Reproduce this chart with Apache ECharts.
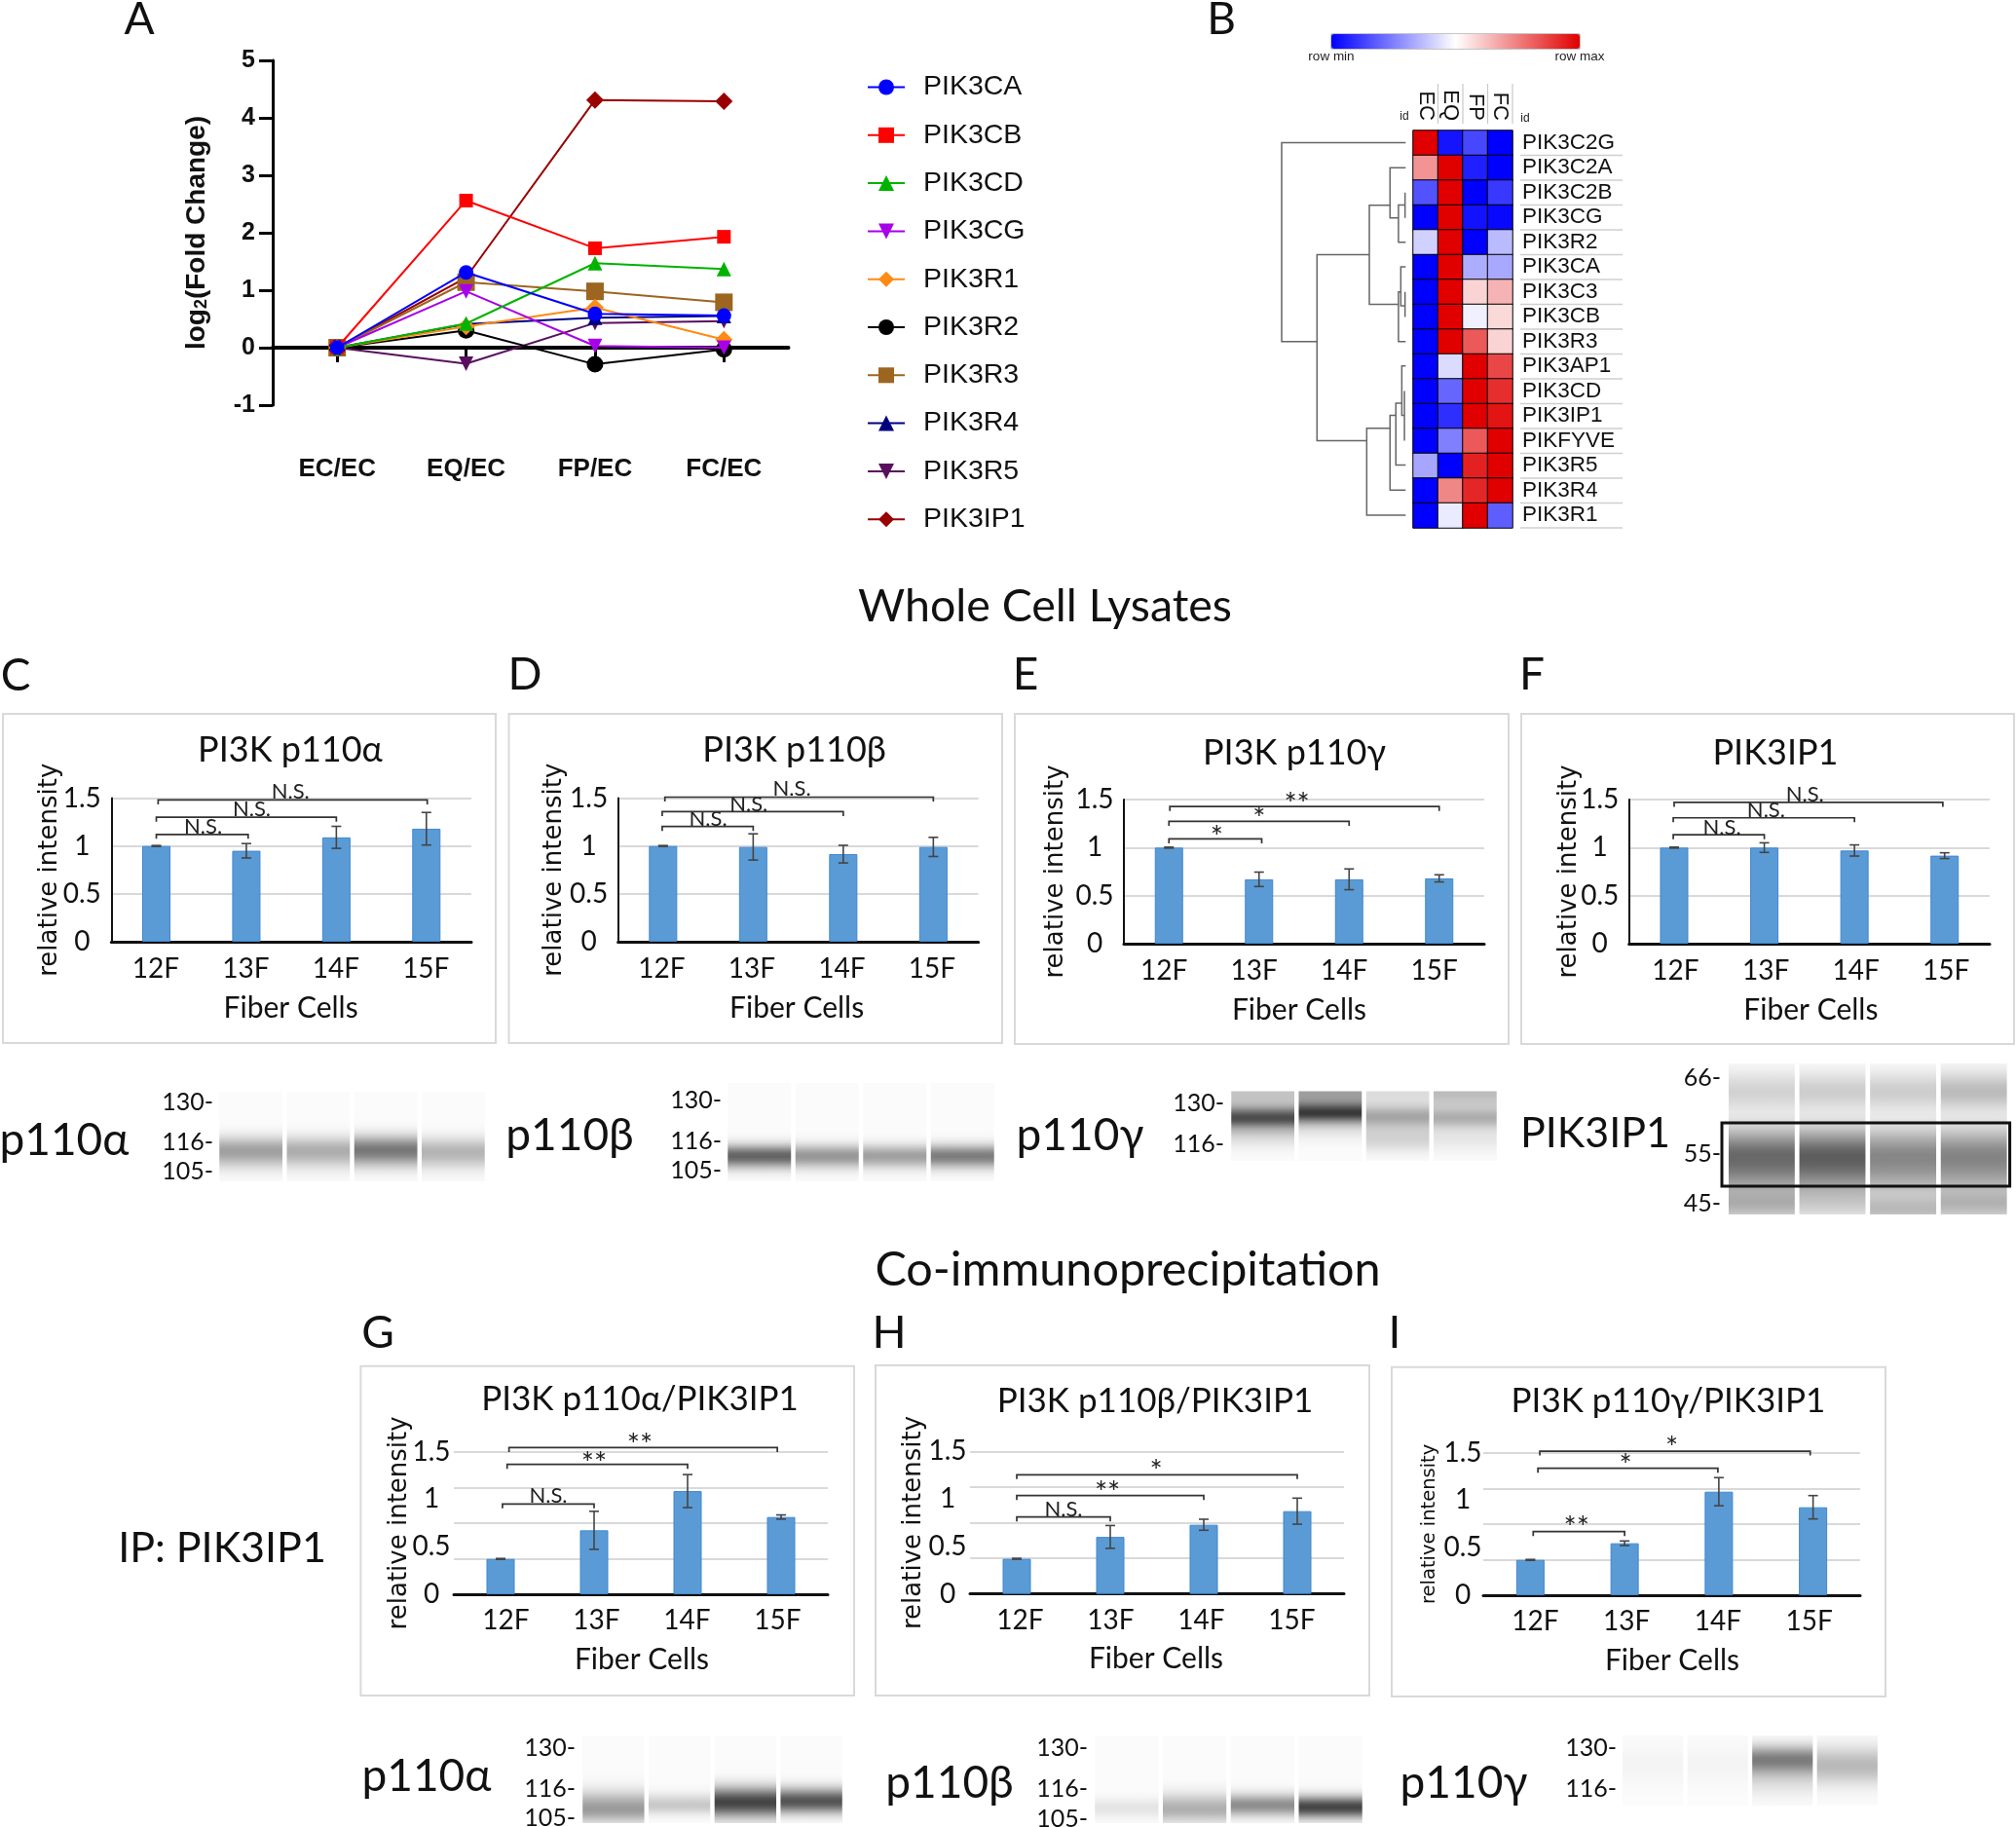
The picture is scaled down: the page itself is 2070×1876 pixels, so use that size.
<!DOCTYPE html>
<html><head><meta charset="utf-8"><title>PI3K figure</title>
<style>html,body{margin:0;padding:0;background:#fff}#c{width:2070px;height:1876px}</style>
<script src="https://cdn.jsdelivr.net/npm/echarts@6/dist/echarts.min.js"></script></head>
<body><div id="c"></div>
<script>
// ---------- Panel A data ----------
const foldCategories = ['EC/EC','EQ/EC','FP/EC','FC/EC'];
const PIK3CA  = [0, 1.31, 0.59, 0.56];
const PIK3CB  = [0, 2.56, 1.73, 1.93];
const PIK3CD  = [0, 0.42, 1.47, 1.37];
const PIK3CG  = [0, 0.98, 0.03, 0.00];
const PIK3R1  = [0, 0.37, 0.70, 0.14];
const PIK3R2  = [0, 0.30, -0.29, -0.03];
const PIK3R3  = [0, 1.14, 0.98, 0.79];
const PIK3R4  = [0, 0.41, 0.52, 0.55];
const PIK3R5  = [0, -0.28, 0.43, 0.46];
const PIK3IP1 = [0, 1.22, 4.31, 4.29];
// ---------- Panel B data ----------
const heatColumns = ['EC','EQ','FP','FC'];
const heatRows = ['PIK3C2G','PIK3C2A','PIK3C2B','PIK3CG','PIK3R2','PIK3CA','PIK3C3','PIK3CB','PIK3R3','PIK3AP1','PIK3CD','PIK3IP1','PIKFYVE','PIK3R5','PIK3R4','PIK3R1'];
const heatValues = [
 [1,-0.92,-0.72,-1],[0.42,1,-0.88,-1],[-0.68,1,-1,-0.78],[-1,1,-0.93,-0.97],
 [-0.18,1,-1,-0.27],[-1,1,-0.32,-0.34],[-1,1,0.17,0.3],[-1,1,-0.06,0.15],
 [-1,1,0.65,0.17],[-1,-0.14,1,0.72],[-1,-0.6,1,0.82],[-1,-0.82,1,0.92],
 [-1,-0.5,0.65,1],[-0.35,-1,0.87,1],[-1,0.47,0.85,1],[-1,-0.08,1,-0.63]];
// merge distance, top row, bottom row, top child distance, bottom child distance
const dendrogramMerges = [
 [1.00,0.49,8.50,0,0.715],[0.715,5.0,12.49,0.293,0.314],[0.293,3.01,7.0,0.126,0.058],
 [0.126,1.5,3.52,0,0.058],[0.058,3.0,4.5,0.005,0],[0.005,2.5,3.52,0.005,0.005],
 [0.058,6.5,8.5,0.039,0],[0.039,5.49,7.06,0,0.005],[0.005,6.5,7.51,0.005,0.005],
 [0.314,11.99,15.49,0.126,0],[0.126,11.47,14.48,0.079,0],[0.079,10.98,13.47,0.031,0],
 [0.031,9.48,11.47,0,0.010],[0.010,10.49,12.49,0.010,0.010]];
// ---------- Bar panels: values, errors, brackets [from,to,level,labelX,labelY,text] ----------
const fiberCells = ['12F','13F','14F','15F'];
const valuesC=[1,0.95,1.09,1.18],  errorsC=[0.005,0.075,0.115,0.17];
const valuesD=[1,0.99,0.915,0.99], errorsD=[0.005,0.137,0.092,0.10];
const valuesE=[1,0.67,0.67,0.68],  errorsE=[0.005,0.075,0.108,0.037];
const valuesF=[1,1.0,0.97,0.916],  errorsF=[0.005,0.05,0.058,0.03];
const valuesG=[0.372,0.673,1.086,0.813], errorsG=[0.005,0.2,0.174,0.022];
const valuesH=[0.37,0.60,0.728,0.871],   errorsH=[0.005,0.12,0.058,0.137];
const valuesI=[0.372,0.547,1.09,0.926],  errorsI=[0.005,0.024,0.148,0.123];
const bracketsC=[[0,1.02,1.12,0.52,1.2,'N.S.'],[0,2,1.30,1.06,1.38,'N.S.'],[0.02,3.01,1.48,1.49,1.57,'N.S.']];
const bracketsD=[[-0.01,1,1.203,0.5,1.28,'N.S.'],[-0.01,2,1.358,0.95,1.43,'N.S.'],[0.02,3,1.51,1.43,1.60,'N.S.']];
const bracketsE=[[0,1.03,1.09,0.53,1.16,'*'],[0,2,1.273,1.0,1.346,'*'],[0.01,3,1.427,1.42,1.503,'**']];
const bracketsF=[[-0.01,1,1.133,0.53,1.21,'N.S.'],[-0.01,2,1.31,1.02,1.39,'N.S.'],[0,2.98,1.47,1.45,1.556,'N.S.']];
const bracketsG=[[0.02,1,0.95,0.51,1.035,'N.S.'],[0.07,2,1.367,1.0,1.43,'**'],[0.09,2.96,1.544,1.49,1.62,'**']];
const bracketsH=[[0,1,0.81,0.5,0.888,'N.S.'],[0,2,1.035,0.97,1.11,'**'],[0,3,1.254,1.49,1.343,'*']];
const bracketsI=[[0.03,1,0.67,0.49,0.758,'**'],[0.08,1.99,1.336,1.01,1.414,'*'],[0.1,2.97,1.517,1.5,1.602,'*']];
// ---------- Capillary blots: [lane, centre, spread up, spread down, darkness] ----------
const blotC=[[0,61,14,16,0.36],[1,61,14,16,0.31],[2,60,14,16,0.52],[3,62,14,16,0.28]];
const blotD=[[0,75,11,12,0.6],[1,75,11,12,0.4],[2,75,11,12,0.36],[3,75,11,12,0.5]];
const blotE=[[0,28,11,11,0.62],[0,0,1,26,0.22],[0,44,6,14,0.12],[1,23,10,9,0.62],[1,0,1,24,0.36],[1,35,6,14,0.1],
 [2,26,11,11,0.3],[2,0,1,18,0.12],[2,48,16,14,0.16],[3,28,10,10,0.24],[3,0,1,22,0.25],[3,48,16,14,0.08]];
const blotF=[[0,29,20,18,0.16],[1,29,20,18,0.18],[2,29,20,18,0.18],[3,29,20,18,0.25],
 [0,96,28,38,0.58],[1,96,28,38,0.62],[2,96,28,38,0.46],[3,96,28,38,0.47],
 [0,145,12,18,0.2],[1,145,12,18,0.08],[2,150,12,18,0.2],[3,145,12,18,0.2]];
const blotG=[[0,75,17,13,0.38],[1,71,11,9,0.2],[2,68,15,15,0.72],[3,67,13,12,0.66]];
const blotH=[[0,74,10,10,0.09],[1,75,15,13,0.3],[2,71,11,11,0.43],[3,73,11,11,0.72]];
const blotI=[[0,30,20,20,0.03],[1,30,20,20,0.03],[2,25,14,16,0.5],[2,50,14,14,0.08],[3,31,19,19,0.26]];
const molecularWeights = {C:['130-','116-','105-'],F:['66-','55-','45-'],E:['130-','116-']};

// ---------- layout (px) ----------
const barPanels = [
 {values:valuesC,errors:errorsC,brackets:bracketsC,title:'PI3K p110α',titleSize:36,frame:[3,733,509,1071],plot:[114.3,819.5,484,967],tc:[298,770],nameX:50,nameSize:26,axisLine:true,steps:3,labelMargin:30,xMargin:14,xGap:53,lShift:-0.5,lInset:0},
 {values:valuesD,errors:errorsD,brackets:bracketsD,title:'PI3K p110β',titleSize:36,frame:[522.5,733,1029,1071],plot:[634.6,819.5,1004.6,967],tc:[815.6,770],nameX:568,nameSize:26,axisLine:true,steps:3,labelMargin:30,xMargin:14,xGap:53,lShift:-1.5,lInset:0},
 {values:valuesE,errors:errorsE,brackets:bracketsE,title:'PI3K p110γ',titleSize:36,frame:[1042,733,1549,1072],plot:[1154,821,1524,969],tc:[1329,773],nameX:1083,nameSize:26,axisLine:true,steps:3,labelMargin:30,xMargin:14,xGap:53,lShift:-5,lInset:0},
 {values:valuesF,errors:errorsF,brackets:bracketsF,title:'PIK3IP1',titleSize:36,frame:[1562,733,2068,1072],plot:[1672.7,821,2043,969],tc:[1823,773],nameX:1610,nameSize:26,axisLine:true,steps:3,labelMargin:30,xMargin:14,xGap:53,lShift:1.5,lInset:0},
 {values:valuesG,errors:errorsG,brackets:bracketsG,title:'PI3K p110α/PIK3IP1',titleSize:35,frame:[370.4,1402.7,877,1741],plot:[466,1490.7,850,1637],tc:[657,1437],nameX:409,nameSize:26,axisLine:false,steps:4,labelMargin:23,xMargin:13,xGap:52,lShift:1,lInset:6},
 {values:valuesH,errors:errorsH,brackets:bracketsH,title:'PI3K p110β/PIK3IP1',titleSize:35,frame:[899,1402,1406,1741],plot:[996,1490.3,1380,1636.7],tc:[1186,1439],nameX:937,nameSize:26,axisLine:false,steps:4,labelMargin:23,xMargin:13,xGap:52,lShift:-1,lInset:6},
 {values:valuesI,errors:errorsI,brackets:bracketsI,title:'PI3K p110γ/PIK3IP1',titleSize:35,frame:[1429,1403.7,1936,1742],plot:[1523,1491.7,1910,1638],tc:[1713,1439],nameX:1468,nameSize:19.5,axisLine:false,steps:4,labelMargin:21,xMargin:13,xGap:52,lShift:0.5,lInset:6}
];
const blots = [
 {bands:blotC,rect:[223,1121,500,1213],name:'p110α',nameAt:[66,1171],mw:molecularWeights.C,mwRight:219,mwY:[1130,1171,1201]},
 {bands:blotD,rect:[745,1112,1023,1213],name:'p110β',nameAt:[585,1166],mw:molecularWeights.C,mwRight:741,mwY:[1128,1170,1200]},
 {bands:blotE,rect:[1262,1120.5,1539,1192],name:'p110γ',nameAt:[1109,1166],mw:molecularWeights.E,mwRight:1257,mwY:[1131,1173]},
 {bands:blotF,rect:[1772.6,1092,2063,1247],name:'PIK3IP1',nameAt:[1638,1164],mw:molecularWeights.F,mwRight:1767,mwY:[1105,1183,1234]},
 {bands:blotG,rect:[596,1782.7,867,1872],name:'p110α',nameAt:[438,1824],mw:molecularWeights.C,mwRight:591,mwY:[1793,1835,1865]},
 {bands:blotH,rect:[1122,1782.7,1401,1872],name:'p110β',nameAt:[975,1831],mw:molecularWeights.C,mwRight:1117,mwY:[1793,1835,1866]},
 {bands:blotI,rect:[1664,1782,1930,1854],name:'p110γ',nameAt:[1503,1831],mw:molecularWeights.E,mwRight:1660,mwY:[1793,1835]}
];
const panelLetters = [['A',143,20],['B',1254,20],['C',16,694],['D',539,693],['E',1053,693],['F',1573,693],['G',388,1369],['H',913,1369],['I',1432,1369]];

const SERIF='Lato, "Noto Sans", sans-serif', ARIAL='"Liberation Sans", Arial, sans-serif', DEJAVU='"DejaVu Sans", sans-serif';
const grids=[],xAxes=[],yAxes=[],series=[],graphics=[];
function gridOf(l,t,r,b){grids.push({left:l,top:t,width:r-l,height:b-t,containLabel:false});return grids.length-1;}
function text(t,x,y,size,opt){opt=opt||{};graphics.push({type:'text',z:opt.z||5,silent:true,style:{text:t,x:x,y:y,font:(opt.weight||'normal')+' '+size+'px '+(opt.family||SERIF),textAlign:opt.align||'center',textVerticalAlign:'middle',fill:opt.fill||'#111'}});}
function box(x1,y1,x2,y2,stroke,lw,z){graphics.push({type:'rect',z:z||1,silent:true,shape:{x:x1,y:y1,width:x2-x1,height:y2-y1},style:{fill:'none',stroke:stroke,lineWidth:lw}});}

// ---------- Panel A ----------
{
 const g=gridOf(280,62,809.5,416);
 xAxes.push({gridIndex:g,type:'category',data:foldCategories,boundaryGap:true,
   axisLine:{onZero:true,lineStyle:{color:'#000',width:4}},
   axisTick:{show:true,alignWithLabel:true,length:15,lineStyle:{color:'#000',width:3}},
   axisLabel:{margin:53,fontFamily:ARIAL,fontWeight:'bold',fontSize:26,color:'#111'},splitLine:{show:false}});
 yAxes.push({gridIndex:g,type:'value',min:-1,max:5,interval:1,
   axisLine:{show:true,onZero:false,lineStyle:{color:'#000',width:3}},
   axisTick:{show:true,length:14,lineStyle:{color:'#000',width:3}},splitLine:{show:false},
   axisLabel:{margin:18,fontFamily:ARIAL,fontWeight:'bold',fontSize:25,color:'#111'},
   name:'{a|log}{s|2}{a|(Fold Change)}',nameLocation:'middle',nameRotate:90,nameGap:64,nameMoveOverlap:false,
   nameTextStyle:{rich:{a:{fontFamily:ARIAL,fontWeight:'bold',fontSize:28,color:'#111'},s:{fontFamily:ARIAL,fontWeight:'bold',fontSize:18,color:'#111',verticalAlign:'bottom'}}}});
 const defs=[['PIK3CA',PIK3CA,'#0000ff','circle',15,0],['PIK3CB',PIK3CB,'#ff0000','rect',14,0],['PIK3CD',PIK3CD,'#00b300','triangle',15,0],
  ['PIK3CG',PIK3CG,'#a800e8','triangle',15,180],['PIK3R1',PIK3R1,'#ff8a14','diamond',18,0],['PIK3R2',PIK3R2,'#000000','circle',17,0],
  ['PIK3R3',PIK3R3,'#9c6520','rect',18,0],['PIK3R4',PIK3R4,'#000080','triangle',15,0],['PIK3R5',PIK3R5,'#5a0f5e','triangle',15,180],['PIK3IP1',PIK3IP1,'#990000','diamond',18,0]];
 defs.forEach((d,i)=>series.push({type:'line',name:d[0],data:d[1],xAxisIndex:g,yAxisIndex:g,symbol:d[3],symbolSize:d[4],symbolRotate:d[5],showSymbol:true,
   z:30-i,lineStyle:{color:d[2],width:2},itemStyle:{color:d[2]},animation:false}));
}
var legendNames=['PIK3CA','PIK3CB','PIK3CD','PIK3CG','PIK3R1','PIK3R2','PIK3R3','PIK3R4','PIK3R5','PIK3IP1'];

// ---------- Panel B ----------
const HX0=1451,HX1=1553,HY0=134,HY1=542;
let heatIndex;
{
 const g=gridOf(HX0,HY0,HX1,HY1);
 const xi=xAxes.length;
 xAxes.push({gridIndex:g,type:'category',position:'top',data:heatColumns,axisLine:{show:false},axisTick:{show:false},splitLine:{show:false},
   axisLabel:{interval:0,rotate:90,margin:10,fontFamily:ARIAL,fontSize:22,color:'#111'}});
 yAxes.push({gridIndex:g,type:'category',position:'right',inverse:true,data:heatRows,axisLine:{show:false},axisTick:{show:false},splitLine:{show:false},
   axisLabel:{interval:0,margin:10,fontFamily:ARIAL,fontSize:22.5,color:'#111'}});
 const cells=[];heatValues.forEach((r,ri)=>r.forEach((v,ci)=>cells.push([ci,ri,v])));
 heatIndex=series.length;
 series.push({type:'heatmap',name:'row z',data:cells,xAxisIndex:xi,yAxisIndex:xi,itemStyle:{borderColor:'#000',borderWidth:1},animation:false,progressive:0});
 series.push({type:'custom',name:'row rules',xAxisIndex:xi,yAxisIndex:xi,clip:false,silent:true,data:heatRows.map((r,i)=>[i]),
   renderItem:(p,api)=>{const r=api.value(0);const a=api.coord([3,r]);const s=api.size([1,1]);const y=a[1]+s[1]/2;const x=a[0]+s[0]/2;
     return {type:'line',shape:{x1:x+8,y1:y,x2:x+113,y2:y},style:{stroke:'#cfcfcf',lineWidth:1.5}};}});
 series.push({type:'custom',name:'column rules',xAxisIndex:xi,yAxisIndex:xi,clip:false,silent:true,data:heatColumns.map((c,i)=>[i]),
   renderItem:(p,api)=>{const c=api.value(0);const a=api.coord([c,0]);const s=api.size([1,1]);const x=a[0]+s[0]/2;const y=a[1]-s[1]/2;
     return {type:'line',shape:{x1:x,y1:y-7,x2:x,y2:y-48},style:{stroke:'#c8c8c8',lineWidth:1.2}};}});
 const d=gridOf(1316,HY0,1443.3,HY1);
 const di=xAxes.length;
 xAxes.push({gridIndex:d,type:'value',min:0,max:1,inverse:true,show:false});
 yAxes.push({gridIndex:d,type:'value',min:0,max:16,inverse:true,show:false});
 series.push({type:'custom',name:'dendrogram',xAxisIndex:di,yAxisIndex:di,clip:false,silent:true,data:dendrogramMerges,
   encode:{x:[0,3,4],y:[1,2]},
   renderItem:(p,api)=>{const m=[0,1,2,3,4].map(i=>api.value(i));
     return {type:'polyline',shape:{points:[api.coord([m[3],m[1]]),api.coord([m[0],m[1]]),api.coord([m[0],m[2]]),api.coord([m[4],m[2]])]},style:{fill:'none',stroke:'#666',lineWidth:1.5}};}});
 box(1367,35,1622,50,'#8a8a8a',1,3);
 text('row min',1367,58,13.5,{family:ARIAL,fill:'#222'});
 text('row max',1622,58,13.5,{family:ARIAL,fill:'#222'});
 text('id',1442,120,12,{family:ARIAL,fill:'#222'});
 text('id',1566,122,12,{family:ARIAL,fill:'#222'});
}

// ---------- Bar panels ----------
barPanels.forEach(p=>{
 const [l,t,r,b]=p.plot;
 const g=gridOf(l,t,r,b);const xi=xAxes.length;const yi=yAxes.length;
 box(p.frame[0],p.frame[1],p.frame[2],p.frame[3],'#d9d9d9',2,1);
 text(p.title,p.tc[0],p.tc[1],p.titleSize,{fill:'#111'});
 xAxes.push({gridIndex:g,type:'category',data:fiberCells,axisLine:{lineStyle:{color:'#111',width:3}},axisTick:{show:false},splitLine:{show:false},axisLabel:{show:false}});
 const gap=l-p.nameX-p.nameSize*0.6+1.5;
 yAxes.push({gridIndex:g,type:'value',min:0,max:1.5,interval:0.5,
   axisLine:{show:p.axisLine,onZero:false,lineStyle:{color:'#111',width:2}},axisTick:{show:false},
   splitLine:{show:p.steps===3,lineStyle:{color:'#d9d9d9',width:2}},
   axisLabel:{margin:p.labelMargin,align:'center',padding:[7,0,0,0],fontFamily:SERIF,fontSize:28,color:'#111'},
   name:'relative intensity',nameLocation:'middle',nameRotate:90,nameGap:gap,nameMoveOverlap:false,nameTextStyle:{fontFamily:DEJAVU,fontSize:p.nameSize,color:'#111'}});
 if(p.steps===4){
   xAxes.push({gridIndex:g,type:'category',data:fiberCells,show:false});
   yAxes.push({gridIndex:g,type:'value',min:0,max:1.5,interval:0.375,axisLine:{show:false},axisTick:{show:false},axisLabel:{show:false},
     splitLine:{show:true,lineStyle:{color:'#d9d9d9',width:2}}});
 }
 // the reference's typed category labels sit slightly apart from the bars, so they get their own axis
 const lg=gridOf(l+p.lShift+p.lInset,t,r+p.lShift-p.lInset,b);
 xAxes.push({gridIndex:lg,type:'category',data:fiberCells,axisLine:{show:false},axisTick:{show:false},splitLine:{show:false},
   axisLabel:{margin:p.xMargin,fontFamily:SERIF,fontSize:28,color:'#111'},
   name:'Fiber Cells',nameLocation:'middle',nameGap:p.xGap,nameMoveOverlap:false,nameTextStyle:{fontFamily:SERIF,fontSize:30,color:'#111'}});
 yAxes.push({gridIndex:lg,type:'value',min:0,max:1.5,show:false});
 series.push({type:'bar',name:p.title,data:p.values,xAxisIndex:xi,yAxisIndex:yi,barWidth:29,z:3,silent:true,animation:false,
   itemStyle:{color:'#5b9bd5',borderColor:'#3f87d0',borderWidth:1}});
 series.push({type:'custom',name:p.title+' error',xAxisIndex:xi,yAxisIndex:yi,z:5,silent:true,clip:false,
   data:p.values.map((v,i)=>[i,v-p.errors[i],v+p.errors[i]]),
   renderItem:(q,api)=>{const a=api.coord([api.value(0),api.value(1)]),c=api.coord([api.value(0),api.value(2)]);const w=5;const st={stroke:'#444',lineWidth:1.6,fill:'none'};
     return {type:'group',children:[{type:'line',shape:{x1:a[0],y1:a[1],x2:c[0],y2:c[1]},style:st},
       {type:'line',shape:{x1:a[0]-w,y1:a[1],x2:a[0]+w,y2:a[1]},style:st},{type:'line',shape:{x1:c[0]-w,y1:c[1],x2:c[0]+w,y2:c[1]},style:st}]};}});
 series.push({type:'custom',name:p.title+' brackets',xAxisIndex:xi,yAxisIndex:yi,z:6,silent:true,clip:false,data:p.brackets.map((b,i)=>[i]),
   renderItem:(q,api)=>{const k=p.brackets[api.value(0)];const x0=api.coord([0,0])[0];const st=api.size([1,0])[0];const X=v=>x0+v*st;
     const yL=api.coord([0,k[2]])[1],yT=api.coord([0,k[4]])[1];
     const star=k[5]!=='N.S.';
     return {type:'group',children:[{type:'polyline',shape:{points:[[X(k[0]),yL+4.5],[X(k[0]),yL],[X(k[1]),yL],[X(k[1]),yL+4.5]]},style:{fill:'none',stroke:'#333',lineWidth:1.7}},
       {type:'text',style:{text:k[5],x:X(k[3]),y:yT+(star?5:0),textAlign:'center',textVerticalAlign:'middle',font:(star?31:22)+'px '+SERIF,fill:'#222'}}]};}});
});

// ---------- Blots ----------
function bell(d,up,down){const s=d<0?up:down;return Math.exp(-Math.pow(Math.abs(d)/s,2));}
blots.forEach(bl=>{
 const [l,t,r,b]=bl.rect;const h=b-t;const g=gridOf(l,t,r,b);const xi=xAxes.length;
 xAxes.push({gridIndex:g,type:'category',data:[0,1,2,3],show:false});
 yAxes.push({gridIndex:g,type:'value',min:0,max:h,inverse:true,show:false});
 series.push({type:'custom',name:'blot '+bl.name,xAxisIndex:xi,yAxisIndex:xi,silent:true,clip:false,data:[[0],[1],[2],[3]],
   renderItem:(q,api)=>{const lane=api.value(0);const top=api.coord([lane,0]),bot=api.coord([lane,h]);const w=api.size([1,0])[0]*0.935;
     const bands=bl.bands.filter(x=>x[0]===lane);const stops=[];
     for(let i=0;i<=28;i++){const y=h*i/28;let dk=0.015;bands.forEach(k=>{dk+=k[4]*bell(y-k[1],k[2],k[3]);});dk=Math.min(dk,0.95);
       const c=Math.round(255*(1-dk));stops.push({offset:i/28,color:'rgb('+c+','+c+','+c+')'});}
     return {type:'rect',shape:{x:top[0]-w/2,y:top[1],width:w,height:bot[1]-top[1]},style:{fill:new echarts.graphic.LinearGradient(0,0,0,1,stops)}};}});
 text(bl.name,bl.nameAt[0],bl.nameAt[1],bl.name==='PIK3IP1'?43:46);
 bl.mw.forEach((m,i)=>text(m,bl.mwRight,bl.mwY[i]+2,25,{align:'right'}));
});
box(1768,1153,2063.6,1218,'#111',3,20);

// ---------- Section texts ----------
panelLetters.forEach(a=>text(a[0],a[1],a[2],46));
text('Whole Cell Lysates',1073,623,46.5);
text('Co-immunoprecipitation',1158,1304,48.5);
text('IP: PIK3IP1',228,1590,43);

const chart=echarts.init(document.getElementById('c'),null,{renderer:'canvas',width:2070,height:1876});
chart.setOption({
 animation:false,backgroundColor:'#fff',
 grid:grids,xAxis:xAxes,yAxis:yAxes,series:series,
 legend:{show:true,orient:'vertical',left:890,top:75,padding:0,itemWidth:38,itemHeight:20,itemGap:20.3,data:legendNames,selectedMode:false,
   textStyle:{fontFamily:ARIAL,fontSize:28.5,color:'#111',padding:[0,0,0,14]}},
 visualMap:{type:'continuous',seriesIndex:heatIndex,min:-1,max:1,orient:'horizontal',left:1367,top:35,padding:0,itemWidth:15,itemHeight:255,calculable:false,text:null,showLabel:false,
   inRange:{color:['#0000ff','#ffffff','#e00000']}},
 graphic:{elements:graphics}
});
</script></body></html>
